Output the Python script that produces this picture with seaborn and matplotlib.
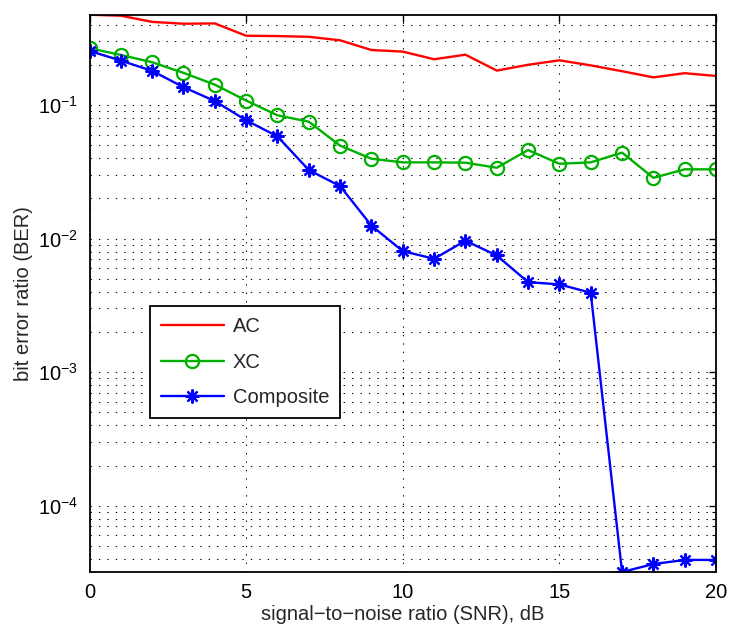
import numpy as np
import pandas as pd
import matplotlib
matplotlib.use("Agg")
import matplotlib.pyplot as plt
import matplotlib.ticker as mticker
import seaborn as sns

snr_db = list(range(0, 21))
ber_ac = [0.474, 0.466, 0.419, 0.406, 0.408, 0.330, 0.328, 0.324, 0.305, 0.258,
          0.251, 0.220, 0.238, 0.181, 0.200, 0.216, 0.198, 0.179, 0.161, 0.173, 0.165]
ber_xc = [0.266, 0.237, 0.209, 0.174, 0.142, 0.108, 0.0837, 0.075, 0.0496, 0.0396,
          0.0372, 0.0372, 0.0370, 0.0339, 0.046, 0.0363, 0.0372, 0.044, 0.0285, 0.033, 0.033]
ber_comp = [0.254, 0.215, 0.180, 0.136, 0.107, 0.0768, 0.0582, 0.0326, 0.0247, 0.0125,
            0.00805, 0.00706, 0.00964, 0.00747, 0.00472, 0.00454, 0.00393, 3.19e-5,
            3.66e-5, 3.93e-5, 3.93e-5]
series_names = ["AC", "XC", "Composite"]
x_ticks = [0, 5, 10, 15, 20]

sns.set_style("white")
plt.rcParams["font.family"] = ["Liberation Sans", "DejaVu Sans"]
plt.rcParams["mathtext.fontset"] = "custom"
plt.rcParams["mathtext.rm"] = "Liberation Sans"
plt.rcParams["mathtext.it"] = "Liberation Sans:italic"
plt.rcParams["axes.unicode_minus"] = True

FS = 14.5
fig = plt.figure(figsize=(7.29, 6.24), dpi=100)
ax = fig.add_axes([0.1228, 0.0833, 0.8594, 0.8931])

df_ac = pd.DataFrame({"snr": snr_db, "ber": ber_ac})
df_xc = pd.DataFrame({"snr": snr_db, "ber": ber_xc})
df_cp = pd.DataFrame({"snr": snr_db, "ber": ber_comp})

green = "#00b000"
sns.lineplot(data=df_ac, x="snr", y="ber", ax=ax, color="red", lw=1.7,
             label=series_names[0])
sns.lineplot(data=df_xc, x="snr", y="ber", ax=ax, color=green, lw=1.7,
             marker="o", markersize=9.5, markerfacecolor="none",
             markeredgecolor=green, markeredgewidth=1.6, label=series_names[1])
sns.lineplot(data=df_cp, x="snr", y="ber", ax=ax, color="blue", lw=1.7,
             marker=(8, 2, 0), markersize=10, markeredgecolor="blue",
             markeredgewidth=1.6, label=series_names[2])

ax.set_yscale("log")
all_vals = ber_ac + ber_xc + ber_comp
ax.set_xlim(min(snr_db), max(snr_db))
ax.set_ylim(min(all_vals), max(all_vals))
ax.set_xticks(x_ticks)
ax.yaxis.set_major_locator(mticker.LogLocator(base=10, numticks=12))
ax.yaxis.set_minor_locator(mticker.LogLocator(base=10, subs=np.arange(2, 10), numticks=12))
ax.yaxis.set_minor_formatter(mticker.NullFormatter())

grid_ls = (0, (1.3, 6.8))
ax.grid(True, which="major", axis="both", color="black", lw=0.75, linestyle=grid_ls)
ax.grid(True, which="minor", axis="y", color="black", lw=0.75, linestyle=grid_ls)
ax.set_axisbelow(True)

ax.tick_params(which="both", direction="in", top=True, right=True, colors="black",
               labelsize=FS)
ax.tick_params(which="major", length=5, width=1.0, pad=8)
ax.tick_params(which="minor", length=3, width=0.8)
for s in ax.spines.values():
    s.set_color("black")
    s.set_linewidth(1.3)

ax.set_xlabel("signal\u2212to\u2212noise ratio (SNR), dB", fontsize=FS, labelpad=2)
ax.set_ylabel("bit error ratio (BER)", fontsize=FS, labelpad=4)

leg = ax.legend(loc="upper left", bbox_to_anchor=(0.0966, 0.477), borderaxespad=0,
                fontsize=FS, handlelength=3.1, handletextpad=0.45,
                labelspacing=0.82, borderpad=0.55, fancybox=False, frameon=True)
leg.get_frame().set_edgecolor("black")
leg.get_frame().set_linewidth(1.3)
leg.get_frame().set_alpha(1)

fig.savefig("out.png", dpi=100)
